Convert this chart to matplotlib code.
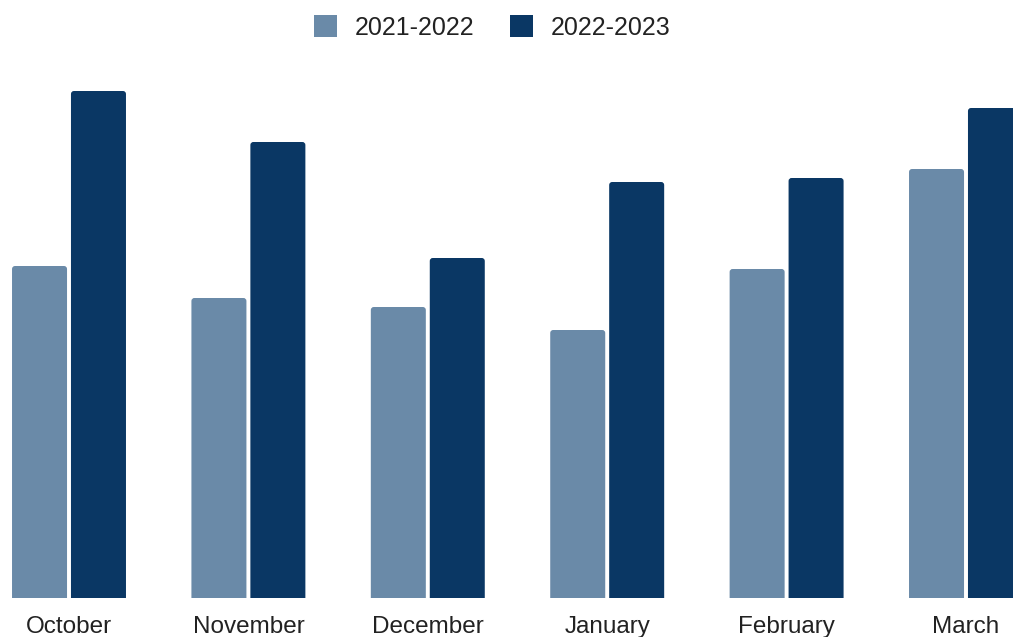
import matplotlib
matplotlib.use("Agg")
from matplotlib import pyplot as plt
from matplotlib.patches import FancyBboxPatch, Patch

months = ['October', 'November', 'December', 'January', 'February', 'March']
season_2122 = [332, 300, 291, 268, 329, 429]
season_2223 = [507, 456, 340, 416, 420, 490]
series_names = ['2021-2022', '2022-2023']

light = '#6a8aa8'
dark = '#0a3764'

plt.rcParams['font.family'] = ['Liberation Sans', 'DejaVu Sans']

fig = plt.figure(figsize=(10.13, 6.37), dpi=100)
ax = fig.add_axes([0, 1 - 598 / 637, 1, (598 - 60) / 637])

width = 0.3066
gap = 0.022
x_px = 179.4  # pixels per category
r = 3.0  # corner radius in pixels


def rounded_bar(x_center, height, color):
    x0 = x_center - width / 2
    box = FancyBboxPatch((x0, -10), width, height + 10,
                         boxstyle='round,pad=0,rounding_size=%f' % (r / x_px),
                         mutation_aspect=x_px, facecolor=color,
                         edgecolor='none', clip_on=True)
    ax.add_patch(box)


for i, (a, b) in enumerate(zip(season_2122, season_2223)):
    rounded_bar(i - width / 2 - gap / 2, a, light)
    rounded_bar(i + width / 2 + gap / 2, b, dark)

ax.set_xlim(-69 / x_px, (1013 - 69) / x_px)
ax.set_ylim(0, 538)
ax.set_xticks(range(len(months)))
ax.set_xticklabels(months, fontsize=17.5, color='#222222')
ax.tick_params(axis='x', length=0, pad=13)
ax.set_yticks([])
for s in ax.spines.values():
    s.set_visible(False)

handles = [Patch(facecolor=light, edgecolor='none'), Patch(facecolor=dark, edgecolor='none')]
fig.legend(handles, series_names, loc='center', bbox_to_anchor=(0.486, 0.957),
           ncol=2, frameon=False, fontsize=18, handlelength=0.92, handleheight=1.0,
           handletextpad=0.72, columnspacing=1.4, labelcolor='#222222')

fig.savefig('out.png', dpi=100)
